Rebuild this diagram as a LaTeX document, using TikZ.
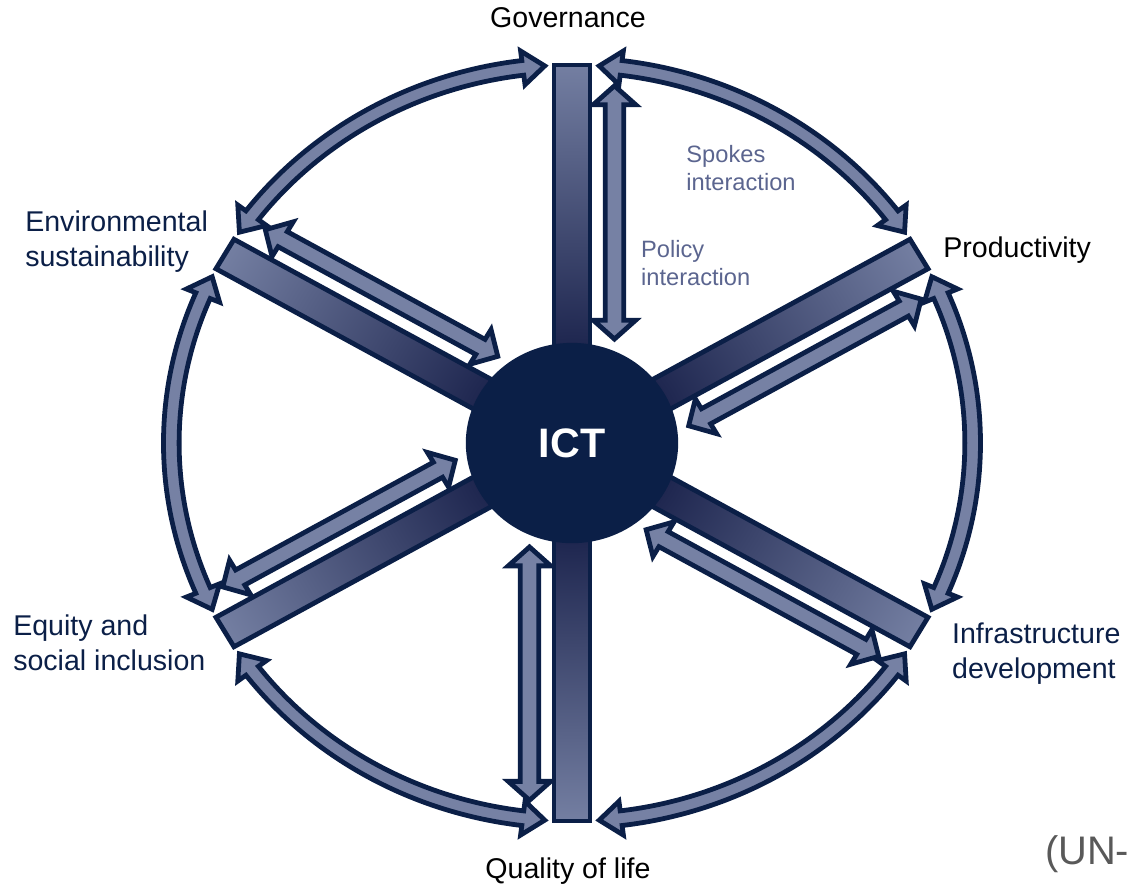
\documentclass[tikz,border=0pt]{standalone}
\usepackage{fontspec}
\setmainfont{Liberation Sans}
\definecolor{ictnavy}{HTML}{0B1F47}
\definecolor{spokedark}{HTML}{1F2750}
\definecolor{spokelight}{HTML}{7681A4}
\definecolor{notetext}{HTML}{5B658F}
\definecolor{srcgrey}{HTML}{595959}
\pgfdeclareradialshading{spokeshade}{\pgfpoint{0bp}{0bp}}{color(0bp)=(spokedark); color(6.5bp)=(spokedark); color(25bp)=(spokelight); color(50bp)=(spokelight)}
\begin{document}
\begin{tikzpicture}[xscale=1.06,
  fatarrow/.style={draw=ictnavy, fill=spokelight, line width=3.6pt},
  spokeline/.style={draw=ictnavy, line width=3.6pt},
  dimname/.style={font=\fontsize{21.5}{26}\selectfont, inner sep=0pt, align=left},
  notename/.style={font=\fontsize{17.8}{21.4}\selectfont, text=notetext, inner sep=0pt, align=left}]
\useasboundingbox (-14.275,-11.72) rectangle (13.876,11.72);
% spokes interaction
\foreach \a in {30,90,...,330}{
  \pgfmathsetmacro{\ra}{\a+3.9}
  \pgfmathsetmacro{\rb}{\a+7.05}
  \pgfmathsetmacro{\rc}{\a+52.95}
  \pgfmathsetmacro{\rd}{\a+56.1}
  \draw[fatarrow] (\ra:10) -- (\rb:10.45) -- (\rb:10.195)
    arc[start angle=\rb, end angle=\rc, radius=10.195] -- (\rc:10.45) -- (\rd:10)
    -- (\rc:9.55) -- (\rc:9.805)
    arc[start angle=\rc, end angle=\rb, radius=9.805] -- (\rb:9.55) -- cycle;
}
% policy interaction
\foreach \a in {30,90,...,330}{
  \begin{scope}[rotate=\a]
    \draw[fatarrow] (2.75,-1.06) -- (3.25,-0.53) -- (3.25,-0.83) -- (8.95,-0.83)
      -- (8.95,-0.53) -- (9.45,-1.06) -- (8.95,-1.59) -- (8.95,-1.29)
      -- (3.25,-1.29) -- (3.25,-1.59) -- cycle;
  \end{scope}
}
% spokes
\begin{scope}
  \clip foreach \a in {30,90,...,330} {(\a+90:0.45) -- ++(\a:10) -- ++(\a-90:0.9) -- ++(\a+180:10) -- cycle};
  \shade[shading=spokeshade] (0,0) circle (10.2);
\end{scope}
\foreach \a in {30,90,...,330}
  \draw[spokeline] (\a+90:0.45) -- ++(\a:10) -- ++(\a-90:0.9) -- ++(\a+180:10) -- cycle;
\fill[ictnavy] (0,0) circle (2.65);
\node[font=\fontsize{31}{36}\selectfont\bfseries, text=white] (ict) at (0,0) {ICT};
% labels
\node[dimname, anchor=base] (gov) at (-0.10,10.98) {Governance};
\node[dimname, anchor=base west] (prod) at (9.26,4.92) {Productivity};
\node[dimname, anchor=north west, text=ictnavy] (infra) at (9.48,-4.75) {Infrastructure\\development};
\node[dimname, anchor=base] (qol) at (-0.10,-11.51) {Quality of life};
\node[dimname, anchor=north west, text=ictnavy] (equity) at (-13.95,-4.54) {Equity and\\social inclusion};
\node[dimname, anchor=north west, text=ictnavy] (env) at (-13.65,6.15) {Environmental\\sustainability};
\node[notename, anchor=north west] (spokes) at (2.85,7.89) {Spokes\\interaction};
\node[notename, anchor=north west] (policy) at (1.72,5.38) {Policy\\interaction};
\node[font=\fontsize{30}{36}\selectfont, text=srcgrey, anchor=base west, inner sep=0pt] (source) at (11.80,-11.16) {(UN-};
\end{tikzpicture}
\end{document}
